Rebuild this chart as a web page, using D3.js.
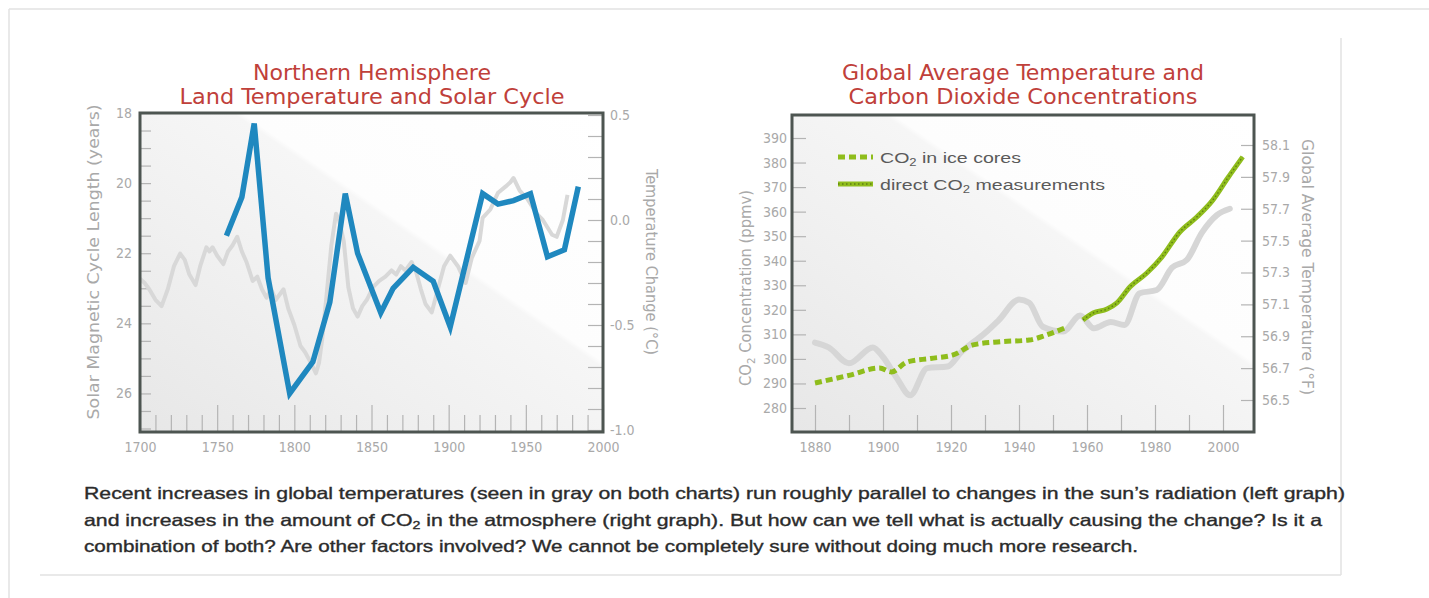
<!DOCTYPE html>
<html>
<head>
<meta charset="utf-8">
<script src="https://cdn.jsdelivr.net/npm/d3@7"></script>
<style>
  body { margin: 0; background: #fff; }
  svg { display: block; }
</style>
</head>
<body>
<svg id="chart"></svg>
<script>
// ---- data ----
// left panel: solar magnetic cycle length (years), blue line
const solarYears = [1756, 1766, 1774, 1783, 1797, 1812, 1823, 1833, 1841, 1856, 1864, 1877, 1890, 1901, 1922, 1932, 1942, 1953, 1964, 1975, 1984];
const solarCycle = [21.5, 20.4, 18.3, 22.7, 26.0, 25.1, 23.4, 20.3, 22.0, 23.7, 23.0, 22.4, 22.8, 24.1, 20.3, 20.6, 20.5, 20.3, 22.1, 21.9, 20.1];

// left panel: NH land temperature change (deg C), gray line
const nhYears = [1700, 1703, 1706, 1710, 1714, 1718, 1722, 1726, 1729, 1732, 1736, 1739, 1743, 1745, 1747, 1750, 1754, 1757, 1760, 1763, 1766, 1769, 1773, 1776, 1779, 1782, 1785, 1788, 1791, 1793, 1796, 1800, 1804, 1807, 1810, 1814, 1816, 1818, 1821, 1824, 1827, 1829, 1832, 1835, 1838, 1841, 1844, 1847, 1851, 1855, 1859, 1863, 1866, 1869, 1872, 1876, 1879, 1882, 1885, 1889, 1893, 1897, 1901, 1906, 1911, 1915, 1920, 1922, 1927, 1932, 1937, 1940, 1942, 1946, 1951, 1957, 1961, 1967, 1970, 1974, 1977];
const nhTemp = [-0.28, -0.30, -0.33, -0.38, -0.41, -0.33, -0.22, -0.16, -0.19, -0.26, -0.31, -0.22, -0.13, -0.15, -0.13, -0.17, -0.21, -0.15, -0.12, -0.08, -0.15, -0.20, -0.29, -0.27, -0.33, -0.37, -0.33, -0.38, -0.35, -0.33, -0.42, -0.50, -0.60, -0.63, -0.67, -0.73, -0.68, -0.57, -0.35, -0.12, 0.03, 0.00, -0.10, -0.32, -0.42, -0.46, -0.41, -0.38, -0.32, -0.29, -0.27, -0.24, -0.26, -0.22, -0.24, -0.20, -0.25, -0.33, -0.40, -0.44, -0.33, -0.22, -0.17, -0.22, -0.30, -0.18, -0.10, 0.01, 0.05, 0.13, 0.16, 0.18, 0.20, 0.14, 0.10, 0.03, 0.00, -0.07, -0.08, 0.00, 0.12];

// right panel: CO2 in ice cores (ppmv), dashed green
const iceYears = [1880, 1890, 1899, 1902.5, 1907, 1914, 1920.6, 1926.5, 1934.5, 1943, 1948, 1953.5];
const iceCO2 = [290.2, 293.3, 296.3, 294.7, 298.7, 300.2, 301.6, 305.7, 307.0, 307.7, 309.7, 312.6];

// right panel: direct CO2 measurements (ppmv), solid green
const directYears = [1958.8, 1961.8, 1965.9, 1968.8, 1972.6, 1977.6, 1982, 1987.3, 1992.3, 1997, 2001.4, 2005.8];
const directCO2 = [315.9, 318.7, 320.3, 322.8, 329.3, 335.0, 341.5, 351.7, 357.8, 364.7, 373.7, 382.3];

// right panel: global average temperature (deg F), gray line
const globalYears = [1880, 1884, 1890, 1897, 1900, 1904, 1908, 1913, 1919, 1923, 1930, 1934, 1940, 1943, 1947, 1953, 1958, 1962, 1967, 1971, 1975.5, 1980.5, 1985, 1989.4, 1993.8, 1998.2, 2002];
const globalTemp = [56.86, 56.83, 56.73, 56.83, 56.77, 56.64, 56.53, 56.70, 56.71, 56.80, 56.92, 57.00, 57.13, 57.11, 56.96, 56.93, 57.03, 56.95, 56.99, 56.97, 57.17, 57.19, 57.33, 57.38, 57.55, 57.66, 57.70];

// tick values
const cycleTicks = d3.range(18, 27.01, 0.5);
const tempCTicks = d3.range(-10, 6).map(d => d / 10);
const leftYearTicks = d3.range(1700, 2001, 10);
const co2Ticks = d3.range(280, 391, 10);
const tempFTicks = d3.range(0, 9).map(i => +(56.5 + 0.2 * i).toFixed(1));
const rightYearTicks = d3.range(1880, 2001, 10);

const captionLines = [
  ["Recent increases in global temperatures (seen in gray on both charts) run roughly parallel to changes in the sun\u2019s radiation (left graph)"],
  ["and increases in the amount of CO", "2", " in the atmosphere (right graph). But how can we tell what is actually causing the change? Is it a"],
  ["combination of both? Are other factors involved? We cannot be completely sure without doing much more research."]
];

// ---- setup ----
const width = 1429, height = 598;
const svg = d3.select("#chart").attr("width", width).attr("height", height);

const narrow = "'Liberation Sans Narrow', 'DejaVu Sans Condensed', 'Liberation Sans', Arial, sans-serif";
const sans = "'Liberation Sans', Arial, Helvetica, sans-serif";
const red = "#c0403a";
const labelGray = "#a9a9a9";
const tickGray = "#b4b4b4";
const frameColor = "#4d5551";
const green = "#8fbd1c";

// page borders
const border = svg.append("g").attr("stroke", "#e2e2e2").attr("stroke-width", 1.5);
border.append("line").attr("x1", 9).attr("y1", 9).attr("x2", width).attr("y2", 9);
border.append("line").attr("x1", 9).attr("y1", 9).attr("x2", 9).attr("y2", height);
border.append("line").attr("x1", 1341).attr("y1", 38).attr("x2", 1341).attr("y2", 575);
border.append("line").attr("x1", 40).attr("y1", 575).attr("x2", 1341).attr("y2", 575);

// background gradient for plot areas
const defs = svg.append("defs");
const grad = defs.append("linearGradient")
  .attr("id", "plotBg")
  .attr("x1", 0).attr("y1", 1).attr("x2", 1).attr("y2", 0);
grad.selectAll("stop")
  .data([[0, "#e7e7e7"], [0.35, "#f0f0f0"], [0.6, "#f6f6f6"], [0.61, "#fdfdfd"], [1, "#ffffff"]])
  .enter().append("stop")
  .attr("offset", d => d[0])
  .attr("stop-color", d => d[1]);

function styleAxis(g) {
  g.select(".domain").remove();
  g.selectAll(".tick line").attr("stroke", tickGray).attr("stroke-width", 1.2);
  g.selectAll(".tick text")
    .attr("fill", labelGray)
    .attr("font-family", narrow)
    .attr("font-size", 14);
}

function drawTitle(lines, cx, widths) {
  lines.forEach((t, i) => {
    svg.append("text")
      .attr("x", cx)
      .attr("y", 80 + i * 24)
      .attr("text-anchor", "middle")
      .attr("fill", red)
      .attr("font-family", narrow)
      .attr("font-size", 22)
      .attr("textLength", widths[i])
      .attr("lengthAdjust", "spacingAndGlyphs")
      .text(t);
  });
}

function axisTitle(parts, x, y, angle, len) {
  const t = svg.append("text")
    .attr("transform", `translate(${x},${y}) rotate(${angle})`)
    .attr("text-anchor", "middle")
    .attr("fill", labelGray)
    .attr("font-family", narrow)
    .attr("font-size", 16)
    .attr("textLength", len)
    .attr("lengthAdjust", "spacingAndGlyphs");
  parts.forEach((p, i) => {
    const sub = i === 1 && parts.length > 2;
    t.append("tspan")
      .attr("font-size", sub ? 11 : null)
      .attr("dy", sub ? 4 : (i === 2 ? -4 : 0))
      .text(p);
  });
}

// ================= left panel =================
const L = { x0: 140, x1: 603, y0: 113, y1: 432 };
const xL = d3.scaleLinear().domain([1700, 2000]).range([L.x0, L.x1]);
const yCycle = d3.scaleLinear().domain([18, 27.1]).range([L.y0, L.y1]);
const yTempC = d3.scaleLinear().domain([-1.0, 0.5]).range([430, 115]);

svg.append("rect")
  .attr("x", L.x0).attr("y", L.y0)
  .attr("width", L.x1 - L.x0).attr("height", L.y1 - L.y0)
  .attr("fill", "url(#plotBg)");

// left y axis
svg.append("g").attr("transform", `translate(${L.x0},0)`)
  .call(d3.axisLeft(yCycle).tickValues(cycleTicks).tickSizeInner(-11).tickSizeOuter(0).tickPadding(8)
    .tickFormat(d => d % 2 === 0 ? d : ""))
  .call(styleAxis);

// right y axis
svg.append("g").attr("transform", `translate(${L.x1},0)`)
  .call(d3.axisRight(yTempC).tickValues(tempCTicks).tickSizeInner(-15).tickSizeOuter(0).tickPadding(7)
    .tickFormat(d => Math.abs(d * 2 - Math.round(d * 2)) < 1e-9 ? d.toFixed(1) : ""))
  .call(styleAxis);

// x axis: minor then major
svg.append("g").attr("transform", `translate(0,${L.y1})`)
  .call(d3.axisBottom(xL).tickValues(leftYearTicks.filter(d => d % 50 !== 0)).tickSizeInner(-17).tickSizeOuter(0).tickFormat(""))
  .call(styleAxis);
svg.append("g").attr("transform", `translate(0,${L.y1})`)
  .call(d3.axisBottom(xL).tickValues(leftYearTicks.filter(d => d % 50 === 0)).tickSizeInner(-27).tickSizeOuter(0).tickPadding(10)
    .tickFormat(d3.format("d")))
  .call(styleAxis);

// gray temperature line
const nhLine = d3.line().x(d => xL(d[0])).y(d => yTempC(d[1]));
svg.append("path")
  .datum(d3.zip(nhYears, nhTemp))
  .attr("d", nhLine)
  .attr("fill", "none")
  .attr("stroke", "#d8d8d8")
  .attr("stroke-width", 4)
  .attr("stroke-linejoin", "round");

// blue solar cycle line
const solarLine = d3.line().x(d => xL(d[0])).y(d => yCycle(d[1]));
svg.append("path")
  .datum(d3.zip(solarYears, solarCycle))
  .attr("d", solarLine)
  .attr("fill", "none")
  .attr("stroke", "#1f88bf")
  .attr("stroke-width", 5.5)
  .attr("stroke-linejoin", "miter");

svg.append("rect")
  .attr("x", L.x0).attr("y", L.y0)
  .attr("width", L.x1 - L.x0).attr("height", L.y1 - L.y0)
  .attr("fill", "none")
  .attr("stroke", frameColor)
  .attr("stroke-width", 3);

drawTitle(["Northern Hemisphere", "Land Temperature and Solar Cycle"], 372, [238, 385]);
axisTitle(["Solar Magnetic Cycle Length (years)"], 99, 262, -90, 315);
axisTitle(["Temperature Change (\u00b0C)"], 646, 262, 90, 186);

// ================= right panel =================
const R = { x0: 792, x1: 1254, y0: 115, y1: 432 };
const xR = d3.scaleLinear().domain([1880, 2000]).range([815, 1223]);
const yCO2 = d3.scaleLinear().domain([280, 390]).range([408, 138]);
const yTempF = d3.scaleLinear().domain([56.5, 58.1]).range([400, 145]);

svg.append("rect")
  .attr("x", R.x0).attr("y", R.y0)
  .attr("width", R.x1 - R.x0).attr("height", R.y1 - R.y0)
  .attr("fill", "url(#plotBg)");

svg.append("g").attr("transform", `translate(${R.x0},0)`)
  .call(d3.axisLeft(yCO2).tickValues(co2Ticks).tickSizeInner(-14).tickSizeOuter(0).tickPadding(5).tickFormat(d3.format("d")))
  .call(styleAxis);

svg.append("g").attr("transform", `translate(${R.x1},0)`)
  .call(d3.axisRight(yTempF).tickValues(tempFTicks).tickSizeInner(-13).tickSizeOuter(0).tickPadding(8).tickFormat(d3.format(".1f")))
  .call(styleAxis);

svg.append("g").attr("transform", `translate(0,${R.y1})`)
  .call(d3.axisBottom(xR).tickValues(rightYearTicks.filter(d => d % 20 !== 0)).tickSizeInner(-17).tickSizeOuter(0).tickFormat(""))
  .call(styleAxis);
svg.append("g").attr("transform", `translate(0,${R.y1})`)
  .call(d3.axisBottom(xR).tickValues(rightYearTicks.filter(d => d % 20 === 0)).tickSizeInner(-27).tickSizeOuter(0).tickPadding(10)
    .tickFormat(d3.format("d")))
  .call(styleAxis);

// gray global temperature
const globalLine = d3.line().x(d => xR(d[0])).y(d => yTempF(d[1])).curve(d3.curveMonotoneX);
svg.append("path")
  .datum(d3.zip(globalYears, globalTemp))
  .attr("d", globalLine)
  .attr("fill", "none")
  .attr("stroke", "#d6d6d6")
  .attr("stroke-width", 6)
  .attr("stroke-linecap", "round");

const co2Line = d3.line().x(d => xR(d[0])).y(d => yCO2(d[1])).curve(d3.curveMonotoneX);

// ice cores: dashed
svg.append("path")
  .datum(d3.zip(iceYears, iceCO2))
  .attr("d", co2Line)
  .attr("fill", "none")
  .attr("stroke", green)
  .attr("stroke-width", 5)
  .attr("stroke-dasharray", "7,4");

// direct measurements: solid with a dotted texture
const directPath = svg.append("g");
directPath.append("path")
  .datum(d3.zip(directYears, directCO2))
  .attr("d", co2Line)
  .attr("fill", "none")
  .attr("stroke", green)
  .attr("stroke-width", 5);
directPath.append("path")
  .datum(d3.zip(directYears, directCO2))
  .attr("d", co2Line)
  .attr("fill", "none")
  .attr("stroke", "#5f7f15")
  .attr("stroke-width", 1.4)
  .attr("stroke-dasharray", "1.5,2.5");

// legend
const legend = svg.append("g");
legend.append("line")
  .attr("x1", 838).attr("x2", 873).attr("y1", 157).attr("y2", 157)
  .attr("stroke", green).attr("stroke-width", 5).attr("stroke-dasharray", "7,4");
legend.append("line")
  .attr("x1", 838).attr("x2", 873).attr("y1", 184).attr("y2", 184)
  .attr("stroke", green).attr("stroke-width", 5);
legend.append("line")
  .attr("x1", 838).attr("x2", 873).attr("y1", 184).attr("y2", 184)
  .attr("stroke", "#5f7f15").attr("stroke-width", 1.4).attr("stroke-dasharray", "1.5,2.5");

const legendItems = [
  { y: 163, parts: ["CO", "2", " in ice cores"], len: 141 },
  { y: 190, parts: ["direct CO", "2", " measurements"], len: 225 }
];
legendItems.forEach(item => {
  const t = legend.append("text")
    .attr("x", 880).attr("y", item.y)
    .attr("fill", "#5a5a5a")
    .attr("font-family", sans)
    .attr("font-size", 15)
    .attr("textLength", item.len)
    .attr("lengthAdjust", "spacingAndGlyphs");
  item.parts.forEach((p, i) => {
    t.append("tspan")
      .attr("font-size", i === 1 ? 10 : null)
      .attr("dy", i === 1 ? 3 : (i === 2 ? -3 : 0))
      .text(p);
  });
});

svg.append("rect")
  .attr("x", R.x0).attr("y", R.y0)
  .attr("width", R.x1 - R.x0).attr("height", R.y1 - R.y0)
  .attr("fill", "none")
  .attr("stroke", frameColor)
  .attr("stroke-width", 3);

drawTitle(["Global Average Temperature and", "Carbon Dioxide Concentrations"], 1023, [362, 349]);
axisTitle(["CO", "2", " Concentration (ppmv)"], 751, 288, -90, 196);
axisTitle(["Global Average Temperature (\u00b0F)"], 1302, 267, 90, 256);

// ================= caption =================
const captionWidths = [1261, 1238, 1054];
captionLines.forEach((parts, i) => {
  const t = svg.append("text")
    .attr("x", 84)
    .attr("y", 499 + i * 26.5)
    .attr("fill", "#2b2b2b")
    .attr("stroke", "#2b2b2b")
    .attr("stroke-width", 0.35)
    .attr("font-family", sans)
    .attr("font-size", 16.5)
    .attr("textLength", captionWidths[i])
    .attr("lengthAdjust", "spacingAndGlyphs");
  parts.forEach((p, j) => {
    t.append("tspan")
      .attr("font-size", j === 1 ? 11 : null)
      .attr("dy", j === 1 ? 3 : (j === 2 ? -3 : 0))
      .text(p);
  });
});
</script>
</body>
</html>
